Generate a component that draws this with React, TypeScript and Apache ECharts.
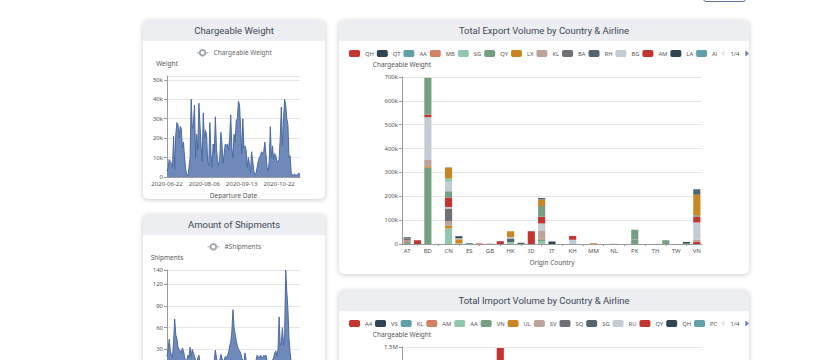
import React, { useEffect, useRef } from "react";
import * as echarts from "echarts";

const FONT = "'Noto Sans', 'Open Sans', sans-serif";
const TITLE_FONT = "Roboto, 'Noto Sans', sans-serif";
const PALETTE = ["#c23531", "#2f4554", "#61a0a8", "#d48265", "#91c7ae", "#749f83", "#ca8622", "#bda29a", "#6e7074", "#546570", "#c4ccd3"];

// ---------- time series ----------
const dateStart = "2020-06-22";
const dateEnd = "2020-11-13";
const skippedDates = [
  "2020-06-27", "2020-06-28", "2020-07-04", "2020-07-05", "2020-07-11", "2020-07-12",
  "2020-07-18", "2020-07-19", "2020-07-25", "2020-07-26", "2020-08-02",
  "2020-08-09", "2020-08-16", "2020-08-23", "2020-08-30",
  "2020-09-20", "2020-09-27", "2020-10-04", "2020-10-11", "2020-10-18",
  "2020-10-25", "2020-11-01", "2020-11-08",
];
function buildDates(): string[] {
  const out: string[] = [];
  const end = new Date(dateEnd + "T00:00:00Z").getTime();
  for (let t = new Date(dateStart + "T00:00:00Z").getTime(); t <= end; t += 86400000) {
    const s = new Date(t).toISOString().slice(0, 10);
    if (skippedDates.indexOf(s) < 0) out.push(s);
  }
  return out;
}
const departureDates = buildDates();

const weightValues = [
  3000, 5000, 9000, 8000, 7000, 5000, 21000, 4000, 22000, 28000,
  27000, 20000, 26000, 25000, 15000, 18000, 10000, 4000, 1000, 500,
  5000, 10000, 40000, 25000, 27000, 37000, 10000, 22000, 14000, 38000,
  27000, 16000, 8000, 33000, 20000, 24000, 22000, 8000, 6000, 28000,
  12000, 5000, 17000, 12000, 31000, 15000, 8000, 6000, 10000, 23000,
  17000, 7000, 12000, 17000, 16000, 17000, 14000, 20000, 32000, 15000,
  10000, 22000, 18000, 29000, 30000, 39000, 37000, 25000, 12000, 30000,
  15000, 16000, 14000, 5000, 10000, 7000, 2000, 13000, 8000, 3000,
  1000, 2000, 5000, 8000, 10000, 11000, 13000, 12000, 13000, 18000,
  12000, 5000, 3000, 8000, 26000, 10000, 16000, 9000, 12000, 11000,
  8000, 8000, 9000, 20000, 36000, 16000, 30000, 40000, 37000, 30000,
  27000, 10000, 11000, 2000, 1000, 1000, 1500, 1000, 1000, 1500,
  2000, 1000,
];

const shipmentValues = [
  20, 30, 44, 28, 22, 18, 40, 72, 50, 45,
  33, 30, 28, 25, 32, 28, 20, 12, 15, 22,
  18, 33, 20, 30, 25, 20, 15, 12, 18, 22,
  12, 8, 10, 12, 8, 10, 12, 8, 10, 14,
  10, 8, 12, 15, 29, 18, 12, 10, 14, 23,
  18, 12, 15, 20, 18, 22, 25, 35, 40, 55,
  85, 60, 52, 42, 35, 30, 28, 25, 18, 15,
  12, 25, 15, 10, 8, 10, 8, 12, 10, 8,
  10, 15, 22, 20, 18, 22, 20, 18, 22, 20,
  22, 15, 10, 8, 12, 10, 15, 18, 25, 28,
  20, 30, 75, 35, 40, 60, 35, 50, 140, 110,
  85, 45, 25, 12, 8, 5, 4, 5, 3, 4,
  5, 3,
];

// ---------- export ----------
const exportCountries = ["AT", "AU", "BD", "BE", "CN", "DE", "ES", "FR", "GB", "GR", "HK", "HU", "ID", "IN", "IT", "JP", "KH", "KR", "MM", "MY", "NL", "PH", "PK", "SG", "TH", "TR", "TW", "US", "VN"];
const exportAirlines = ["QH", "QT", "AA", "MB", "SG", "QY", "LX", "KL", "BA", "RH", "BG", "AM", "LA", "AF", "AY", "BR", "CV", "CX", "CZ", "DL", "EK", "ET", "EY", "FX", "GF", "HX", "JL", "KE", "K4", "LH", "MH", "MU", "NH", "OZ", "PO", "QR", "SQ", "SU", "SV", "TG", "TK", "UA", "UL", "UO", "VN", "VS", "WY", "5Y"];
const exportSegments: [string, string, number][] = [
  ["AT", "QY", 4000], ["AT", "LX", 3000], ["AT", "BA", 5000], ["AT", "BG", 3000], ["AT", "AM", 4000], ["AT", "LA", 3000], ["AT", "DL", 3000], ["AT", "EK", 3000],
  ["AU", "QH", 16000],
  ["BD", "QY", 320000], ["BD", "LX", 6000], ["BD", "KL", 26000], ["BD", "BG", 179000], ["BD", "AM", 12000], ["BD", "CV", 154000],
  ["BE", "BG", 600],
  ["CN", "SG", 65000], ["CN", "LX", 11000], ["CN", "KL", 19000], ["CN", "BA", 54000], ["CN", "BG", 6000], ["CN", "AM", 40000], ["CN", "CV", 26000], ["CN", "ET", 40000], ["CN", "JL", 14000], ["CN", "K4", 46000], ["CN", "LH", 2000],
  ["DE", "SG", 2000], ["DE", "LX", 18000], ["DE", "BG", 4000], ["DE", "LA", 9000],
  ["ES", "AA", 4000],
  ["FR", "MB", 3500],
  ["GB", "KL", 2000],
  ["GR", "QH", 12000],
  ["HK", "SG", 8000], ["HK", "RH", 15000], ["HK", "BG", 6000], ["HK", "CX", 24000],
  ["HU", "RH", 5000],
  ["ID", "QH", 53000],
  ["IN", "SG", 13000], ["IN", "QY", 7000], ["IN", "LX", 3000], ["IN", "KL", 31000], ["IN", "BG", 32000], ["IN", "AM", 28000], ["IN", "CV", 45000], ["IN", "CX", 28000], ["IN", "EK", 6000],
  ["IT", "LA", 10000],
  ["JP", "BG", 400],
  ["KH", "BG", 18000], ["KH", "AM", 16000],
  ["KR", "SG", 300],
  ["MM", "LX", 3000],
  ["MY", "BG", 300],
  ["NL", "BG", 2000],
  ["PH", "BG", 300],
  ["PK", "QY", 19000], ["PK", "LX", 1000], ["PK", "CV", 40000],
  ["SG", "BG", 400],
  ["TH", "BG", 1500],
  ["TR", "QY", 16000],
  ["TW", "BG", 500],
  ["US", "QY", 2000], ["US", "LA", 6000],
  ["VN", "QH", 9000], ["VN", "KL", 9000], ["VN", "BG", 72000], ["VN", "AM", 25000], ["VN", "CV", 5000], ["VN", "CX", 86000], ["VN", "EK", 23000],
];

// ---------- import ----------
const importCountries = ["AE", "AT", "AU", "BD", "BE", "CA", "CH", "CN", "CZ", "DE", "DK", "ES", "FR", "GB", "HK", "ID", "IN", "IT", "JP", "KH", "KR", "MY", "NL", "PL", "SE", "SG", "TH", "US", "VN"];
const importAirlines = ["A4", "VS", "KL", "AM", "AA", "VN", "UL", "SV", "SQ", "SG", "RU", "QY", "QH", "PO", "QR", "LX", "LH", "CX", "CV", "EK", "ET", "TK", "SU", "MH", "MU", "CZ", "CA", "BR", "CI", "NH", "JL", "KE", "OZ", "TG", "BA", "AF", "DL", "UA", "FX", "5X", "QT", "MB", "LA", "RH", "BG", "HX", "GF", "EY"];
const importSegments: [string, string, number][] = [
  ["DE", "A4", 150000], ["DE", "VN", 520000], ["DE", "SQ", 260000], ["DE", "RU", 180000], ["DE", "QY", 380000],
  ["US", "VS", 200000], ["US", "KL", 120000], ["US", "AM", 90000],
  ["CN", "VN", 300000], ["CN", "UL", 150000],
  ["NL", "KL", 250000],
  ["FR", "AA", 180000],
  ["GB", "VS", 160000], ["GB", "SV", 80000],
  ["JP", "QH", 140000],
  ["KR", "SG", 90000],
  ["AU", "QY", 120000],
  ["IT", "AM", 70000],
  ["HK", "UL", 110000],
];

function buildStack(countries: string[], airlines: string[], segments: [string, string, number][]) {
  return airlines.map((a) => ({
    name: a,
    type: "bar",
    stack: "total",
    data: countries.map((c) => segments.filter((s) => s[0] === c && s[1] === a).reduce((acc, s) => acc + s[2], 0)),
  }));
}

// ---------- option builders ----------
const LABEL_COLOR = "#555";
const AXIS_COLOR = "#9a9a9a";
const HEADER_FILL = "#eceef1";
const TITLE_COLOR = "#3d4857";

function header(width: number, text: string) {
  return {
    graphic: [{ type: "rect", left: 0, top: 0, shape: { width, height: 21 }, style: { fill: HEADER_FILL }, silent: true, z: -10 }],
    title: { text, left: "center", top: 5, padding: 0, textStyle: { fontFamily: TITLE_FONT, fontSize: 9.5, fontWeight: "normal", color: TITLE_COLOR } },
  };
}

function kFormat(v: number) {
  if (v === 0) return "0";
  if (v >= 1000000) return v / 1000000 + "M";
  if (v >= 1000) return v / 1000 + "k";
  return String(v);
}

function lineOption(title: string, seriesName: string, yName: string, values: number[], max: number, interval: number, hideMax: boolean, xName: string) {
  return {
    animation: false,
    textStyle: { fontFamily: FONT },
    ...header(182, title),
    legend: {
      top: 29,
      padding: 0,
      itemWidth: 12,
      itemHeight: 7,
      textStyle: { fontSize: 6.5, color: "#666", fontFamily: FONT },
      data: [{ name: seriesName, itemStyle: { color: "#a3a7ae" }, lineStyle: { color: "#a3a7ae", width: 1 } }],
    },
    grid: { left: 24, right: 25, top: 56, bottom: 22, outerBoundsMode: "none" },
    xAxis: {
      type: "category",
      data: departureDates,
      boundaryGap: false,
      name: xName,
      nameLocation: "middle",
      nameGap: 12,
      nameTextStyle: { fontSize: 6.5, color: LABEL_COLOR, fontFamily: FONT },
      axisLine: { lineStyle: { color: AXIS_COLOR } },
      axisTick: { show: false },
      axisLabel: { interval: 33, fontSize: 6, color: LABEL_COLOR, margin: 4, fontFamily: FONT },
    },
    yAxis: {
      type: "value",
      min: 0,
      max,
      interval,
      name: yName,
      nameGap: 9,
      nameTextStyle: { fontSize: 6.5, color: LABEL_COLOR, fontFamily: FONT },
      axisLine: { show: true, lineStyle: { color: AXIS_COLOR } },
      axisTick: { show: true, length: 3, lineStyle: { color: AXIS_COLOR } },
      axisLabel: { fontSize: 6, color: LABEL_COLOR, margin: 4, showMaxLabel: !hideMax, formatter: kFormat, fontFamily: FONT },
      splitLine: { lineStyle: { color: "#e6e6e6" } },
    },
    series: [
      {
        type: "line",
        name: seriesName,
        data: values,
        showSymbol: false,
        symbol: "emptyCircle",
        itemStyle: { color: "#4b6aa0" },
        lineStyle: { width: 1, color: "#4b6aa0" },
        areaStyle: { color: "#6e89ba", opacity: 1 },
      },
    ],
  };
}

function barOption(title: string, countries: string[], airlines: string[], segments: [string, string, number][], max: number, interval: number, xName: string) {
  return {
    animation: false,
    color: PALETTE,
    textStyle: { fontFamily: FONT },
    ...header(410, title),
    legend: {
      type: "scroll",
      left: 10,
      right: 5,
      top: 30,
      padding: 0,
      itemWidth: 11,
      itemHeight: 7,
      itemGap: 3,
      textStyle: { fontSize: 5.8, color: LABEL_COLOR, fontFamily: FONT },
      pageIconSize: 6,
      pageButtonGap: 4,
      pageButtonItemGap: 3,
      pageTextStyle: { fontSize: 6, color: LABEL_COLOR },
      data: airlines,
    },
    grid: { left: 63, right: 47, top: 57, bottom: 30, outerBoundsMode: "none" },
    xAxis: {
      type: "category",
      data: countries,
      name: xName,
      nameLocation: "middle",
      nameGap: 12,
      nameTextStyle: { fontSize: 6.5, color: LABEL_COLOR, fontFamily: FONT },
      axisLine: { lineStyle: { color: AXIS_COLOR } },
      axisTick: { show: true, length: 2, alignWithLabel: true, interval: (i: number) => i % 2 === 1, lineStyle: { color: AXIS_COLOR } },
      axisLabel: { interval: 1, fontSize: 6, color: LABEL_COLOR, margin: 4, fontFamily: FONT },
    },
    yAxis: {
      type: "value",
      min: 0,
      max,
      interval,
      name: "Chargeable Weight",
      nameGap: 9,
      nameTextStyle: { fontSize: 6.5, color: LABEL_COLOR, fontFamily: FONT },
      axisLine: { show: true, lineStyle: { color: AXIS_COLOR } },
      axisTick: { show: true, length: 3, lineStyle: { color: AXIS_COLOR } },
      axisLabel: { fontSize: 6, color: LABEL_COLOR, margin: 4, formatter: kFormat, fontFamily: FONT },
      splitLine: { lineStyle: { color: "#e6e6e6" } },
    },
    series: buildStack(countries, airlines, segments),
  };
}

function Chart({ option, width, height }: { option: any; width: number; height: number }) {
  const ref = useRef<HTMLDivElement>(null);
  useEffect(() => {
    const chart = echarts.init(ref.current as HTMLDivElement, undefined, { renderer: "svg", width, height });
    chart.setOption(option);
    return () => chart.dispose();
  }, []);
  return <div ref={ref} style={{ width, height }} />;
}

function Card({ left, top, width, height, option }: { left: number; top: number; width: number; height: number; option: any }) {
  return (
    <div
      style={{
        position: "absolute",
        left,
        top,
        width,
        height,
        background: "#fff",
        borderRadius: 5,
        overflow: "hidden",
        boxShadow: "0 1px 5px rgba(0,0,0,0.22)",
      }}
    >
      <Chart option={option} width={width} height={height} />
    </div>
  );
}

export default function App() {
  return (
    <div style={{ position: "fixed", left: 0, top: 0, width: 820, height: 360, overflow: "hidden", background: "#fff" }}>
      <div style={{ position: "absolute", left: 703, top: -14, width: 41, height: 14, border: "1px solid #6470a0", borderRadius: 3 }} />
      <Card left={143} top={20} width={182} height={179}
        option={lineOption("Chargeable Weight", "Chargeable Weight", "Weight", weightValues, 52000, 10000, true, "Departure Date")} />
      <Card left={143} top={214} width={182} height={179}
        option={lineOption("Amount of Shipments", "#Shipments", "Shipments", shipmentValues, 140, 30, false, "Departure Date")} />
      <Card left={339} top={20} width={410} height={254}
        option={barOption("Total Export Volume by Country & Airline", exportCountries, exportAirlines, exportSegments, 700000, 100000, "Origin Country")} />
      <Card left={339} top={290} width={410} height={254}
        option={barOption("Total Import Volume by Country & Airline", importCountries, importAirlines, importSegments, 1500000, 250000, "Destination Country")} />
    </div>
  );
}
